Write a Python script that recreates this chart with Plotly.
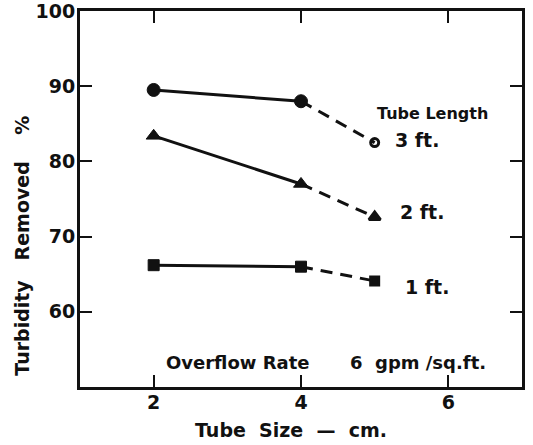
import plotly.graph_objs as go

# tube size (cm) and turbidity removed (%) for each tube length
tube_size = [2, 4, 5]
removed_3ft = [89.5, 88.0, 82.5]
removed_2ft = [83.4, 77.0, 72.6]
removed_1ft = [66.2, 66.0, 64.1]

tube_lengths = ["3 ft.", "2 ft.", "1 ft."]
x_ticks = [2, 4, 6]
y_ticks = [60, 70, 80, 90, 100]

FONT = "DejaVu Sans"
INK = "#111111"

series = [
    (removed_3ft, "circle", "circle-open", 13, 8),
    (removed_2ft, "triangle-up", "triangle-up", 13, 10),
    (removed_1ft, "square", "square", 11, 8),
]
# label offsets (px) from the last point of each curve
label_shift = [(18, 3), (23, 5), (28, -6)]

fig = go.Figure()

for vals, sym, last_sym, size, last_size in series:
    # solid part between tube sizes 2 and 4
    fig.add_trace(go.Scatter(
        x=tube_size[:2], y=vals[:2],
        mode="lines+markers",
        line=dict(color=INK, width=3),
        marker=dict(symbol=sym, size=size, color=INK,
                    line=dict(color=INK, width=1)),
        showlegend=False,
    ))
    # dashed extension to 5 cm
    fig.add_trace(go.Scatter(
        x=tube_size[1:], y=vals[1:],
        mode="lines",
        line=dict(color=INK, width=3, dash="12px,8px"),
        showlegend=False,
    ))
    fig.add_trace(go.Scatter(
        x=tube_size[2:], y=vals[2:],
        mode="markers",
        marker=dict(symbol=last_sym, size=last_size, color=INK,
                    line=dict(color=INK, width=3)),
        showlegend=False,
    ))

annotations = []
for lbl, vals, (dx, dy) in zip(tube_lengths, [removed_3ft, removed_2ft, removed_1ft], label_shift):
    annotations.append(dict(x=tube_size[2], y=vals[2], xref="x", yref="y", text=lbl,
                            showarrow=False, xanchor="left", yanchor="middle",
                            xshift=dx, yshift=dy, font=dict(size=19)))

annotations += [
    dict(x=5.79, y=86.4, xref="x", yref="y", text="Tube Length",
         showarrow=False, xanchor="center", yanchor="middle", font=dict(size=16)),
    dict(x=3.145, y=53.3, xref="x", yref="y", text="Overflow Rate",
         showarrow=False, xanchor="center", yanchor="middle", font=dict(size=18)),
    dict(x=4.75, y=53.3, xref="x", yref="y", text="6",
         showarrow=False, xanchor="center", yanchor="middle", font=dict(size=18)),
    dict(x=5.76, y=53.3, xref="x", yref="y", text="gpm /sq.ft.",
         showarrow=False, xanchor="center", yanchor="middle", font=dict(size=18)),
    dict(x=-0.131, y=0.376, xref="paper", yref="paper",
         text="Turbidity\u00a0\u00a0\u00a0Removed\u00a0\u00a0\u00a0\u00a0%",
         textangle=-90, showarrow=False, xanchor="center", yanchor="middle",
         font=dict(size=19)),
    dict(x=0.477, y=-0.114, xref="paper", yref="paper",
         text="Tube\u00a0\u00a0Size\u00a0\u00a0\u2014\u00a0\u00a0cm.",
         showarrow=False, xanchor="center", yanchor="middle", font=dict(size=19)),
]

axis_common = dict(
    showgrid=False, zeroline=False, showline=True, linecolor=INK, linewidth=3,
    mirror="ticks", ticks="inside", ticklen=12, tickwidth=2, tickcolor=INK,
    tickfont=dict(size=19, color=INK), automargin=False, ticklabeloverflow="allow",
)

fig.update_layout(
    width=533, height=445,
    margin=dict(l=80, r=11, t=11, b=58),
    plot_bgcolor="white", paper_bgcolor="white",
    font=dict(family=FONT, color=INK, weight="bold"),
    xaxis=dict(range=[1, 7], tickvals=x_ticks, ticklabelstandoff=-4, **axis_common),
    yaxis=dict(range=[50, 100], tickvals=y_ticks, ticklabelstandoff=-2, **axis_common),
    annotations=annotations,
)

fig.write_html("out.html", config={"displayModeBar": False},
               post_script="document.body.style.margin='0px';")
